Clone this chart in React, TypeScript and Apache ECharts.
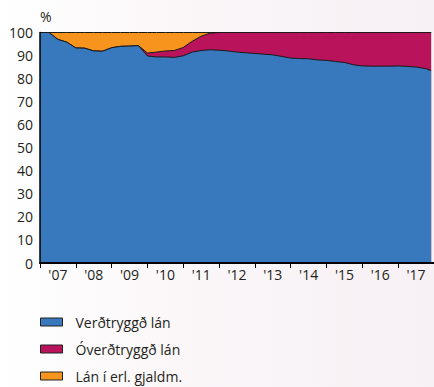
import React, { useEffect, useRef } from "react";
import * as echarts from "echarts";

const periods = [
  2007.0, 2007.25, 2007.5, 2007.75,
  2008.0, 2008.25, 2008.5, 2008.75,
  2009.0, 2009.25, 2009.5, 2009.75,
  2010.0, 2010.25, 2010.5, 2010.75,
  2011.0, 2011.25, 2011.5, 2011.75,
  2012.0, 2012.25, 2012.5, 2012.75,
  2013.0, 2013.25, 2013.5, 2013.75,
  2014.0, 2014.25, 2014.5, 2014.75,
  2015.0, 2015.25, 2015.5, 2015.75,
  2016.0, 2016.25, 2016.5, 2016.75,
  2017.0, 2017.25, 2017.5, 2017.75, 2017.92,
];

const indexed = [
  100, 100, 97.0, 95.8,
  93.3, 93.2, 92.0, 91.9,
  93.4, 94.0, 94.1, 94.3,
  89.8, 89.4, 89.4, 89.2,
  89.9, 91.5, 92.2, 92.5,
  92.3, 92.0, 91.5, 91.2,
  90.9, 90.6, 90.3, 89.6,
  88.9, 88.7, 88.6, 88.1,
  87.9, 87.4, 87.0, 86.0,
  85.5, 85.4, 85.4, 85.4,
  85.5, 85.3, 85.0, 84.4, 83.5,
];

const nonIndexed = [
  0, 0, 0, 0,
  0, 0, 0, 0,
  0, 0, 0, 0,
  1.3, 2.1, 2.6, 3.0,
  3.6, 4.7, 6.2, 7.2,
  7.7, 8.0, 8.5, 8.8,
  9.1, 9.4, 9.7, 10.4,
  11.1, 11.3, 11.4, 11.9,
  12.1, 12.6, 13.0, 14.0,
  14.5, 14.6, 14.6, 14.6,
  14.5, 14.7, 15.0, 15.6, 16.5,
];

const foreign = [
  0, 0, 3.0, 4.2,
  6.7, 6.8, 8.0, 8.1,
  6.6, 6.0, 5.9, 5.7,
  8.9, 8.5, 8.0, 7.8,
  6.5, 3.8, 1.6, 0.3,
  0, 0, 0, 0,
  0, 0, 0, 0,
  0, 0, 0, 0,
  0, 0, 0, 0,
  0, 0, 0, 0,
  0, 0, 0, 0, 0,
];

const yearLabels = ["'07", "'08", "'09", "'10", "'11", "'12", "'13", "'14", "'15", "'16", "'17"];

const seriesNames = ["Verðtryggð lán", "Óverðtryggð lán", "Lán í erl. gjaldm."];
const seriesColors = ["#3878bd", "#b9135c", "#f7941e"];

const FONT = "'Open Sans', 'Noto Sans', sans-serif";
const TEXT = "#231f20";

export default function App() {
  const ref = useRef<HTMLDivElement>(null);

  useEffect(() => {
    document.body.style.margin = "0";
    if (!ref.current) return;
    const chart = echarts.init(ref.current, null, { renderer: "svg" });
    const seriesData = [indexed, nonIndexed, foreign];
    // cumulative tops for a 100% stacked area (drawn back to front)
    const cumulative = seriesData.map((_, i) =>
      periods.map((p, k) => {
        let s = 0;
        for (let j = 0; j <= i; j++) s += seriesData[j][k];
        return [p, Math.min(100, +s.toFixed(2))];
      })
    );
    chart.setOption({
      animation: false,
      textStyle: { fontFamily: FONT, color: TEXT },
      grid: { left: 40, right: -3, top: 32.5, bottom: 124 },
      legend: {
        orient: "vertical",
        left: 40,
        top: 315,
        height: 90,
        padding: 0,
        itemWidth: 22,
        itemHeight: 8,
        itemGap: 13,
        icon: "rect",
        itemStyle: { borderColor: "#222", borderWidth: 1 },
        textStyle: { fontSize: 14, color: TEXT, fontFamily: FONT, padding: [0, 0, 0, 8] },
        data: seriesNames,
      },
      xAxis: [
        {
          type: "value",
          min: 2007,
          max: 2018,
          interval: 1,
          axisLine: { show: true, onZero: false, lineStyle: { color: "#000", width: 2 } },
          axisTick: { show: true, length: 5, lineStyle: { color: "#000", width: 1 } },
          axisLabel: { show: false },
          splitLine: { show: false },
          z: 10,
        },
        {
          type: "category",
          position: "bottom",
          data: yearLabels,
          boundaryGap: true,
          axisLine: { show: false },
          axisTick: { show: false },
          axisLabel: { margin: 4, fontSize: 14, color: TEXT, fontFamily: FONT },
          splitLine: { show: false },
        },
      ],
      yAxis: {
        type: "value",
        min: 0,
        max: 100,
        interval: 10,
        name: "%",
        nameLocation: "end",
        nameGap: 9,
        nameTextStyle: { align: "left", fontSize: 14, color: TEXT, fontFamily: FONT },
        axisLine: { show: true, lineStyle: { color: "#000", width: 1.5 } },
        axisTick: { show: false },
        axisLabel: { margin: 7, fontSize: 14, color: TEXT, fontFamily: FONT },
        splitLine: { show: false },
        z: 10,
      },
      series: seriesNames.map((name, i) => ({
        name,
        type: "line",
        xAxisIndex: 0,
        symbol: "none",
        color: seriesColors[i],
        itemStyle: { color: seriesColors[i] },
        lineStyle: { color: "#1a1a1a", width: 1 },
        areaStyle: { color: seriesColors[i], opacity: 1, origin: "start" },
        data: cumulative[i],
        z: 5 - i,
      })),
    });
    return () => chart.dispose();
  }, []);

  return (
    <div
      style={{
        position: "fixed",
        left: 0,
        top: 0,
        width: 434,
        height: 387,
        background: "linear-gradient(to right, #ffffff 0%, #fbf7f9 40%, #f7f0f4 100%)",
      }}
    >
      <div ref={ref} style={{ width: 434, height: 387 }} />
    </div>
  );
}
